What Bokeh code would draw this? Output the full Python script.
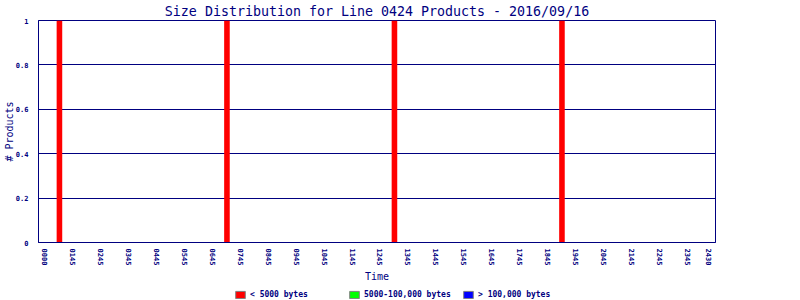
from bokeh.plotting import figure
from bokeh.layouts import column
from bokeh.models import Range1d, Legend, LegendItem, ColumnDataSource, FixedTicker
from bokeh.embed import file_html
from bokeh.resources import INLINE

# ---- data ----
tick_labels = ["0000", "0145", "0245", "0345", "0445", "0545", "0645", "0745",
               "0845", "0945", "1045", "1145", "1245", "1345", "1445", "1545",
               "1645", "1745", "1845", "1945", "2045", "2145", "2245", "2345",
               "2430"]
tick_hours = [0, 1, 2, 3, 4, 5, 6, 7, 8, 9, 10, 11, 12, 13, 14, 15, 16, 17,
              18, 19, 20, 21, 22, 23, 23.75]
bar_hours = [0.5, 6.5, 12.5, 18.5]
small_counts = [1, 1, 1, 1]
medium_counts = [0, 0, 0, 0]
large_counts = [0, 0, 0, 0]
series_names = ["< 5000 bytes", "5000-100,000 bytes", "> 100,000 bytes"]
series_colors = ["#FF0000", "#00FF00", "#0000FF"]
y_ticks = [0, 0.2, 0.4, 0.6, 0.8, 1]
y_tick_labels = ["0", "0.2", "0.4", "0.6", "0.8", "1"]
title_text = "Size Distribution for Line 0424 Products - 2016/09/16"

NAVY = "#000080"
MONO = "DejaVu Sans Mono"

p = figure(width=800, height=286, output_backend="svg", toolbar_location=None,
           x_range=Range1d(-0.25, 24), y_range=Range1d(0, 1),
           min_border_left=36, min_border_right=85, min_border_top=20,
           min_border_bottom=44, title=title_text)
p.background_fill_color = "white"
p.border_fill_color = "white"
p.outline_line_color = NAVY
p.outline_line_width = 1

p.title.align = "center"
p.title.vertical_align = "top"
p.title.text_color = NAVY
p.title.text_font = MONO
p.title.text_font_size = "13.3px"
p.title.text_font_style = "normal"
p.title.standoff = 0

src = ColumnDataSource(dict(hour=bar_hours, small=small_counts,
                            medium=medium_counts, large=large_counts))
p.vbar_stack(["small", "medium", "large"], x="hour", width=0.2, source=src,
             fill_color=series_colors, line_color=None)

# axes
p.xaxis.ticker = FixedTicker(ticks=tick_hours)
p.xaxis.major_label_overrides = {h: l for h, l in zip(tick_hours, tick_labels)}
p.xaxis.major_label_orientation = "vertical"
p.xaxis.major_tick_line_color = None
p.xaxis.minor_tick_line_color = None
p.xaxis.major_label_standoff = 0
p.xaxis.axis_label = "Time"
p.xaxis.axis_label_standoff = 3

p.yaxis.ticker = FixedTicker(ticks=y_ticks)
p.yaxis.major_label_overrides = {v: l for v, l in zip(y_ticks, y_tick_labels)}
p.yaxis.major_tick_line_color = None
p.yaxis.minor_tick_line_color = None
p.yaxis.major_label_standoff = 4
p.yaxis.axis_label = "# Products"
p.yaxis.axis_label_standoff = -2

for ax in (p.xaxis[0], p.yaxis[0]):
    ax.axis_line_color = NAVY
    ax.major_label_text_color = NAVY
    ax.major_label_text_font = MONO
    ax.major_label_text_font_size = "7px"
    ax.major_label_text_font_style = "bold"
    ax.axis_label_text_color = NAVY
    ax.axis_label_text_font = MONO
    ax.axis_label_text_font_size = "10px"
    ax.axis_label_text_font_style = "normal"

p.xgrid.grid_line_color = None
p.ygrid.grid_line_color = NAVY
p.ygrid.grid_line_width = 1

# ---- legend strip ----
lg = figure(width=800, height=14, output_backend="svg", toolbar_location=None,
            x_range=Range1d(0, 1), y_range=Range1d(0, 1),
            x_axis_location=None, y_axis_location=None,
            min_border_left=0, min_border_right=0, min_border_top=0,
            min_border_bottom=0)
lg.grid.visible = False
lg.outline_line_color = None
lg.background_fill_color = "white"
lg.border_fill_color = "white"
proxies = []
for c in series_colors:
    r = lg.rect(x=[float("nan")], y=[float("nan")], width=1, height=1,
                fill_color=c, line_color="#808080")
    proxies.append(r)
legend = Legend(items=[LegendItem(label=n, renderers=[r]) for n, r in zip(series_names, proxies)],
                orientation="horizontal", location=(196, 1),
                glyph_width=12, glyph_height=9, label_width=98, label_height=9,
                label_standoff=4, spacing=0, padding=0, margin=0,
                border_line_color=None, background_fill_alpha=0,
                label_text_font=MONO, label_text_font_size="8px",
                label_text_font_style="bold", label_text_color=NAVY)
lg.add_layout(legend, "center")

layout = column(p, lg, spacing=0)
open("out.html", "w").write(file_html(layout, INLINE))
